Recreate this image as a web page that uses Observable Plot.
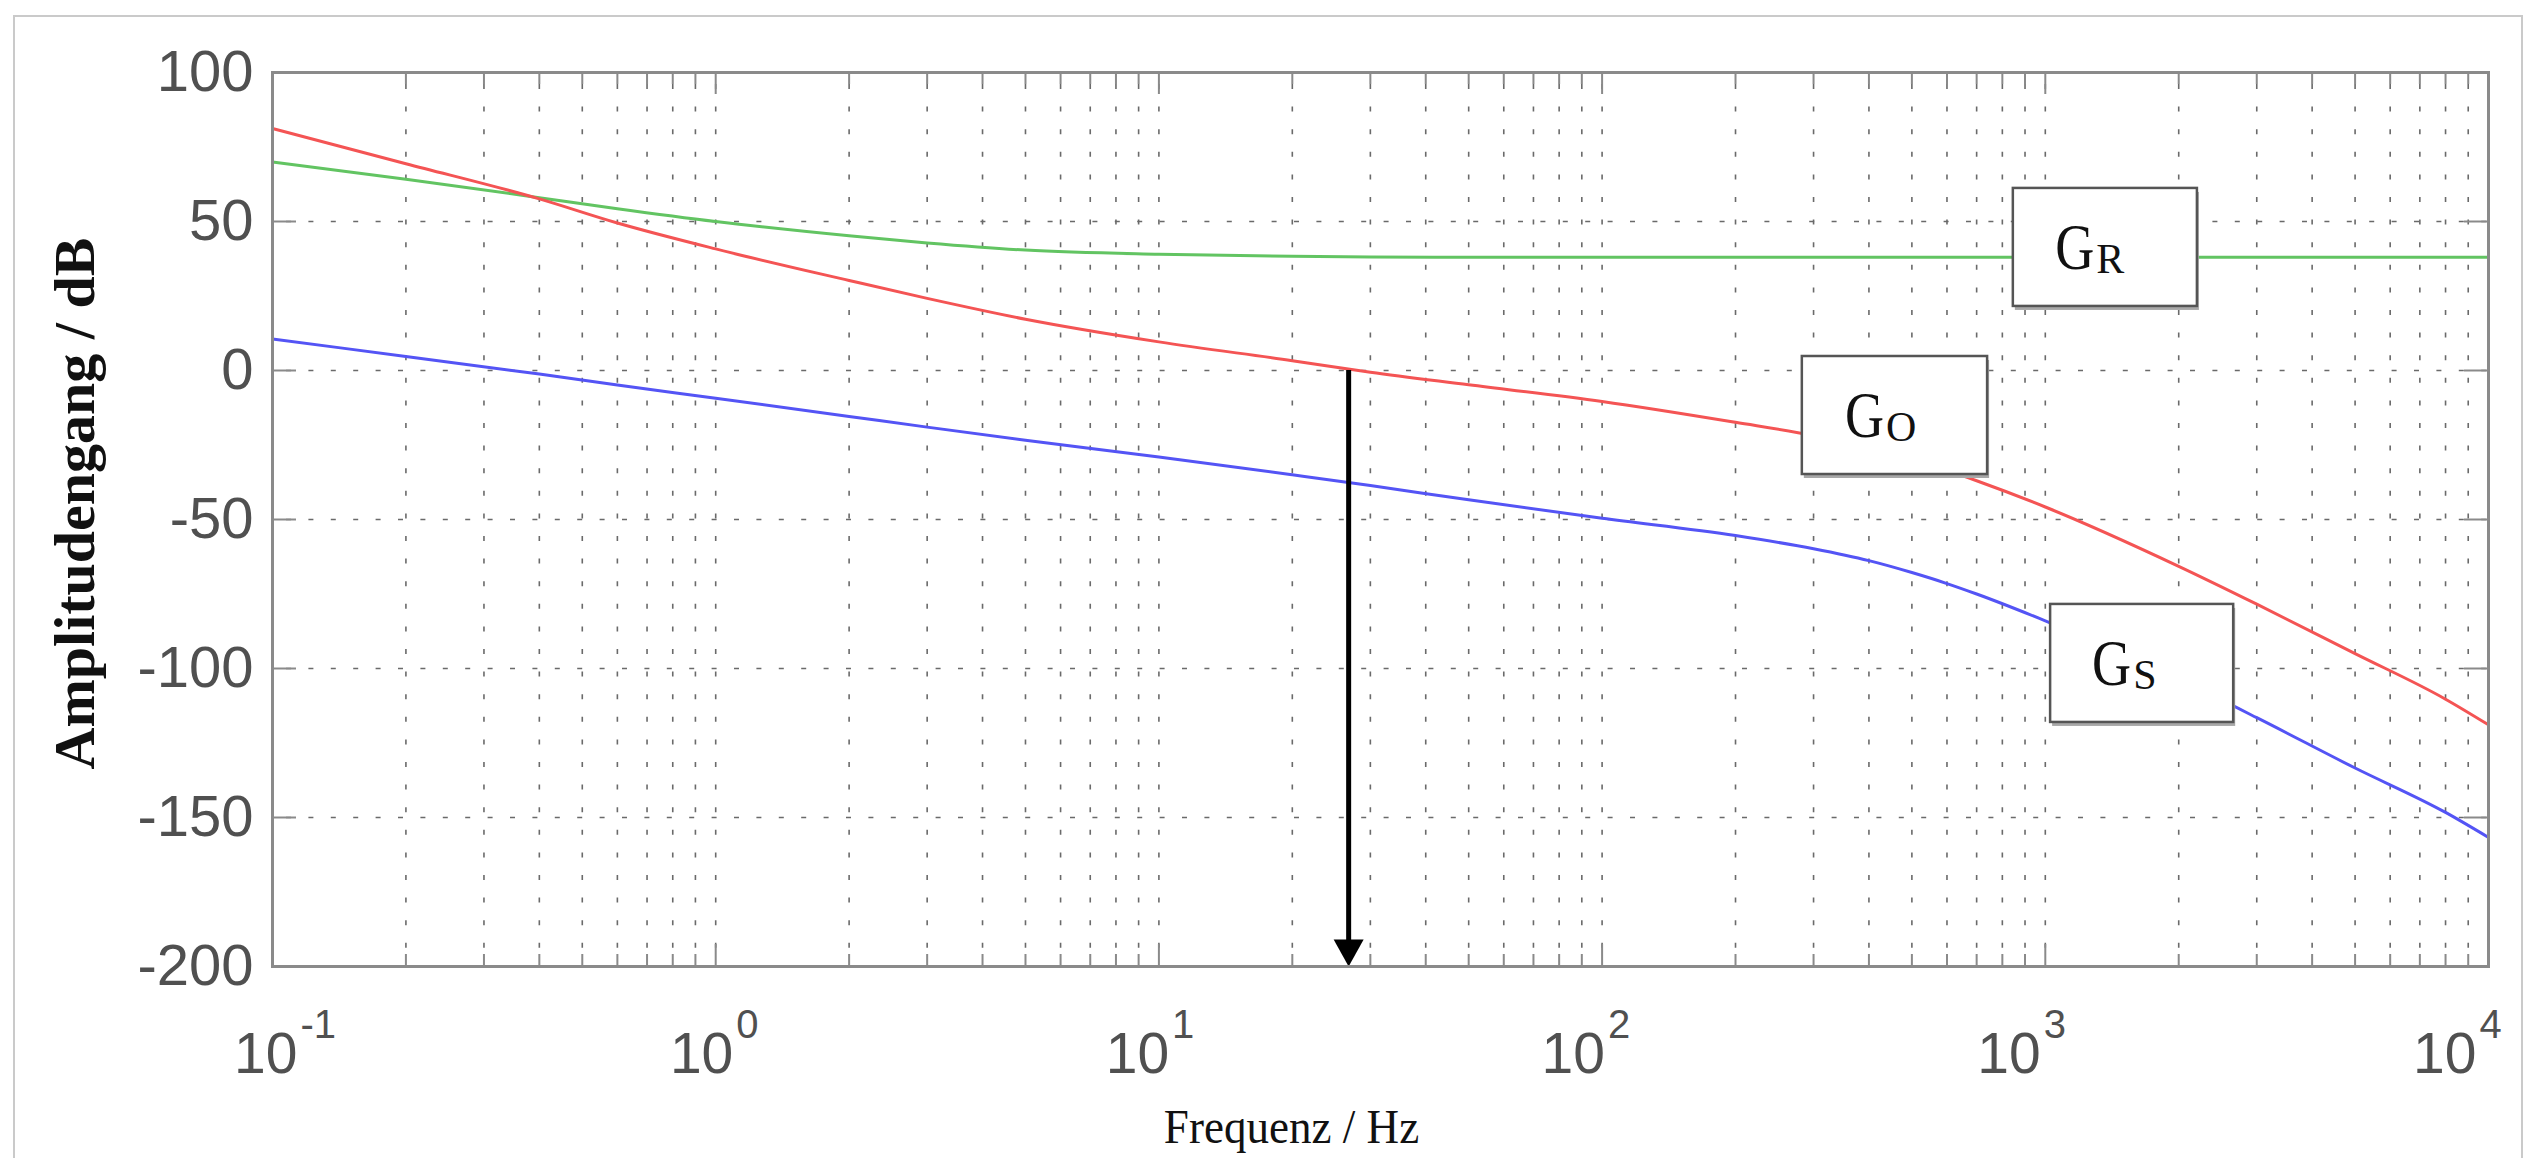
<!DOCTYPE html>
<html><head><meta charset="utf-8">
<script src="https://cdn.jsdelivr.net/npm/d3@7"></script>
<script src="https://cdn.jsdelivr.net/npm/@observablehq/plot@0.6"></script>
<style>
html,body{margin:0;padding:0;background:#fff;overflow:hidden;width:2530px;height:1158px;}
#wrap{position:relative;width:2530px;height:1158px;overflow:hidden;}
#outer{position:absolute;left:13px;top:15px;width:2510px;height:1300px;border:2px solid #cacaca;box-sizing:border-box;}
#chart{position:absolute;left:0;top:0;}
</style></head><body>
<div id="wrap"><div id="outer"></div><div id="chart"></div></div>
<script>
// ---- data (frequency in Hz, gain in dB) ----
const freqHz = [0.1, 0.2, 0.4, 0.6, 1, 2, 3, 5, 10, 20, 30, 50, 100, 200, 300, 400, 500, 600, 700, 1000, 2000, 3000, 5000, 8000, 10000];
const gainGR = [70.0, 64.2, 58.0, 54.3, 50.0, 45.2, 42.8, 40.4, 39.0, 38.3, 38.1, 38.0, 38.0, 38.0, 38.0, 38.0, 38.0, 38.0, 38.0, 38.0, 38.0, 38.0, 38.0, 38.0, 38.0];
const gainGS = [10.6, 4.7, -1.2, -4.9, -9.3, -15.4, -19.0, -23.4, -29.0, -35.0, -38.6, -43.4, -49.6, -55.4, -59.8, -63.8, -67.8, -71.5, -75.0, -84.0, -103.6, -116.5, -133.4, -148.3, -156.7];
const gainGO = [81.2, 69.4, 57.6, 49.5, 40.8, 30.2, 24.2, 17.2, 9.6, 3.3, -0.6, -4.8, -10.4, -17.4, -21.8, -25.8, -29.8, -33.5, -37.0, -45.8, -65.7, -78.4, -95.0, -110.3, -118.9];

const yTicks = [100, 50, 0, -50, -100, -150, -200];
const decades = [0.1, 1, 10, 100, 1000, 10000];
const decadeExponents = ["-1", "0", "1", "2", "3", "4"];

// annotation boxes (G_R, G_O, G_S)
const labelNames = ["R", "O", "S"];
const labelBoxHzLo = [847, 283, 1028];
const labelBoxHzHi = [2204, 741, 2661];
const labelBoxDbLo = [21.5, -34.9, -118.1];
const labelBoxDbHi = [61.1, 4.7, -78.5];

// crossover frequency (0 dB of G_O)
const crossoverHz = [26.8];

// ---- layout ----
const W = 2530, H = 1158;
const mL = 272, mR = 42, mT = 72, mB = 192;
const frameW = W - mL - mR, frameH = H - mT - mB;

const allTicks = d3.scaleLog().domain([0.1, 1e4]).ticks();
const isDecade = t => Math.abs(Math.log10(t) - Math.round(Math.log10(t))) < 1e-9;
const minorTicks = allTicks.filter(t => !isDecade(t));
const gridX = allTicks.filter(t => t > 0.1 * 1.001 && t < 1e4 * 0.999);
const gridY = yTicks.filter(t => t < 100 && t > -200);

const sansFont = "Liberation Sans, Arial, sans-serif";
const serifFont = "Liberation Serif, Times New Roman, serif";
const tickColor = "#505050";
const axisGray = "#8a8a8a";

const downTriangle = {
  draw(ctx) {
    ctx.moveTo(0, 0);
    ctx.lineTo(-15, -27);
    ctx.lineTo(15, -27);
    ctx.closePath();
  }
};

const boxCx = (d, i) => Math.sqrt(labelBoxHzLo[i] * labelBoxHzHi[i]);
const boxCy = (d, i) => (labelBoxDbLo[i] + labelBoxDbHi[i]) / 2;

// decade labels "10" + superscript exponent; label layer drifts slightly left of ticks
const decadeLabelMarks = decades.flatMap((dec, k) => {
  const off = 25 - 7.4 * k;
  return [
    Plot.text([dec], {x: d => d, frameAnchor: "bottom", text: () => "10", textAnchor: "end", lineAnchor: "bottom", dx: off, dy: 106, fontSize: 57, fontFamily: sansFont, fill: tickColor}),
    Plot.text([dec], {x: d => d, frameAnchor: "bottom", text: () => decadeExponents[k], textAnchor: "start", lineAnchor: "bottom", dx: off + 3, dy: 71, fontSize: 40, fontFamily: sansFont, fill: tickColor})
  ];
});

const chart = Plot.plot({
  width: W, height: H,
  marginLeft: mL, marginRight: mR, marginTop: mT, marginBottom: mB,
  x: {type: "log", domain: [0.1, 1e4], axis: null},
  y: {domain: [-200, 100]},
  style: {background: "transparent", color: tickColor, fontFamily: sansFont},
  marks: [
    // dotted grid
    Plot.ruleX(gridX, {x: d => d, stroke: "#6a6a6a", strokeWidth: 1.6, strokeDasharray: "5,17.6", strokeDashoffset: -12}),
    Plot.ruleY(gridY, {y: d => d, stroke: "#6a6a6a", strokeWidth: 1.6, strokeDasharray: "5,17.4", strokeDashoffset: -14}),
    // curves
    Plot.line(freqHz, {x: d => d, y: (d, i) => gainGR[i], stroke: "#62c462", strokeWidth: 3, curve: "monotone-x"}),
    Plot.line(freqHz, {x: d => d, y: (d, i) => gainGS[i], stroke: "#5454f5", strokeWidth: 3, curve: "monotone-x"}),
    Plot.line(freqHz, {x: d => d, y: (d, i) => gainGO[i], stroke: "#f45454", strokeWidth: 3, curve: "monotone-x"}),
    // crossover arrow
    Plot.ruleX(crossoverHz, {x: d => d, y1: 0, y2: -200, stroke: "#000", strokeWidth: 5, insetBottom: 20}),
    Plot.dot(crossoverHz, {x: d => d, y: () => -200, symbol: downTriangle, r: 10, fill: "#000", stroke: "none"}),
    // annotation boxes
    Plot.rect(labelNames, {x1: (d, i) => labelBoxHzLo[i], x2: (d, i) => labelBoxHzHi[i], y1: (d, i) => labelBoxDbLo[i], y2: (d, i) => labelBoxDbHi[i], fill: "#a8a8a8", dx: 2, dy: 4}),
    Plot.rect(labelNames, {x1: (d, i) => labelBoxHzLo[i], x2: (d, i) => labelBoxHzHi[i], y1: (d, i) => labelBoxDbLo[i], y2: (d, i) => labelBoxDbHi[i], fill: "#fff", stroke: "#555", strokeWidth: 2.5}),
    Plot.text(labelNames, {x: boxCx, y: boxCy, text: () => "G", textAnchor: "end", lineAnchor: "bottom", dx: -11, dy: 22, fontSize: 66, fontFamily: serifFont, fill: "#111"}),
    Plot.text(labelNames, {x: boxCx, y: boxCy, text: d => d, textAnchor: "start", lineAnchor: "bottom", dx: -9, dy: 26, fontSize: 42, fontFamily: serifFont, fill: "#111"}),
    // axes box
    Plot.frame({stroke: axisGray, strokeWidth: 3}),
    // inward ticks
    Plot.ruleX(minorTicks, {x: d => d, stroke: axisGray, strokeWidth: 2, insetTop: frameH - 12}),
    Plot.ruleX(minorTicks, {x: d => d, stroke: axisGray, strokeWidth: 2, insetBottom: frameH - 12}),
    Plot.ruleX(decades, {x: d => d, stroke: axisGray, strokeWidth: 2, insetTop: frameH - 22}),
    Plot.ruleX(decades, {x: d => d, stroke: axisGray, strokeWidth: 2, insetBottom: frameH - 22}),
    Plot.ruleY(yTicks, {y: d => d, stroke: axisGray, strokeWidth: 2, insetRight: frameW - 24}),
    Plot.ruleY(yTicks, {y: d => d, stroke: axisGray, strokeWidth: 2, insetLeft: frameW - 24}),
    // y tick labels
    Plot.axisY({ticks: yTicks, tickSize: 0, tickPadding: 19, fontSize: 58, label: null, tickFormat: d => String(d), fill: tickColor}),
    // x tick labels 10^n
    ...decadeLabelMarks,
    // axis titles
    Plot.text(["Frequenz / Hz"], {frameAnchor: "bottom", text: d => d, lineAnchor: "bottom", dx: -89, dy: 176, fontSize: 49, fontFamily: serifFont, fill: "#111"}),
    Plot.text(["Amplitudengang / dB"], {frameAnchor: "left", text: d => d, rotate: -90, lineAnchor: "bottom", textAnchor: "middle", dx: -179, dy: -16, fontSize: 58, fontWeight: "bold", fontFamily: serifFont, fill: "#111"})
  ]
});
document.getElementById("chart").appendChild(chart);

// condense some serif glyphs horizontally (the reference font is narrow)
function condense(el, sx) {
  const x = +el.getAttribute("x") || 0, y = +el.getAttribute("y") || 0;
  el.removeAttribute("x"); el.removeAttribute("y");
  const t = el.getAttribute("transform") || "";
  el.setAttribute("transform", `${t} translate(${x},${y}) scale(${sx},1)`);
}
chart.querySelectorAll("text").forEach(el => {
  const s = el.textContent;
  if (s === "G") condense(el, 0.82);
  else if (s === "Frequenz / Hz") condense(el, 0.92);
});
</script>
</body></html>
